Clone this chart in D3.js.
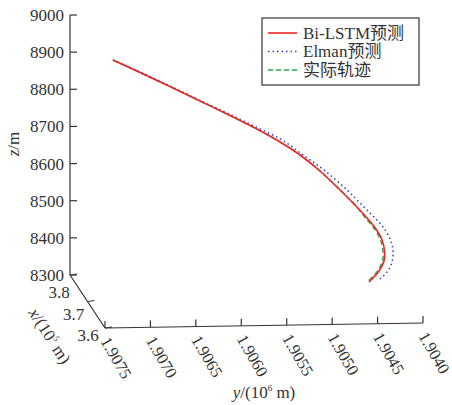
<!DOCTYPE html>
<html lang="zh">
<head>
<meta charset="UTF-8" />
<title>Trajectory 3D</title>
<script src="https://d3js.org/d3.v7.min.js"></script>
<style>
  body { margin: 0; background: #fff; }
  svg { display: block; }
  text { font-family: "Liberation Serif", "Times New Roman", "Noto Sans CJK SC", serif; fill: #333; }
</style>
</head>
<body>
<svg id="chart" width="452" height="405"></svg>
<script>
// axis ticks
const xTicks = [3.6, 3.7, 3.8];
const yTicks = [1.9075, 1.9070, 1.9065, 1.9060, 1.9055, 1.9050, 1.9045, 1.9040];
const zTicks = [8300, 8400, 8500, 8600, 8700, 8800, 8900, 9000];

const seriesNames = ["Bi-LSTM预测", "Elman预测", "实际轨迹"];

// trajectory points (x in 1e5 m, y in 1e6 m, z in m)
const trackX = [3.760, 3.754, 3.748, 3.742, 3.736, 3.730, 3.724, 3.718, 3.712,
                3.706, 3.700, 3.694, 3.688, 3.682, 3.676, 3.670, 3.664, 3.658];

const lstmY = [1.907104, 1.906818, 1.906500, 1.906181, 1.905862, 1.905599, 1.905335, 1.905127, 1.904918,
               1.904709, 1.904556, 1.904435, 1.904348, 1.904293, 1.904277, 1.904294, 1.904361, 1.904483];
const lstmZ = [8905.8, 8875.4, 8840.7, 8804.8, 8768.8, 8738.4, 8704.0, 8672.5, 8632.9,
               8585.2, 8548.5, 8517.3, 8491.6, 8466.1, 8440.7, 8418.1, 8395.7, 8370.9];

const elmanY = [1.907104, 1.906818, 1.906500, 1.906181, 1.905862, 1.905599, 1.905313, 1.905093, 1.904874,
                1.904632, 1.904479, 1.904369, 1.904271, 1.904205, 1.904184, 1.904206, 1.904273, 1.904362];
const elmanZ = [8905.8, 8876.7, 8842.0, 8806.1, 8771.5, 8742.4, 8709.3, 8672.3, 8635.4,
                8584.9, 8548.2, 8522.4, 8496.7, 8468.4, 8443.0, 8415.1, 8392.7, 8378.5];

const realY = [1.907104, 1.906818, 1.906500, 1.906181, 1.905862, 1.905599, 1.905335, 1.905127, 1.904918,
               1.904709, 1.904556, 1.904452, 1.904365, 1.904310, 1.904294, 1.904311, 1.904378, 1.904500];
const realZ = [8905.8, 8875.4, 8840.7, 8804.8, 8768.8, 8738.4, 8704.0, 8672.5, 8632.9,
               8585.2, 8548.5, 8517.3, 8491.6, 8466.1, 8440.7, 8418.1, 8395.7, 8370.9];

const svg = d3.select("#chart");

// 3D -> screen: each axis maps to a fraction, then onto its own screen vector
const xS = d3.scaleLinear().domain([3.6, 3.8]).range([0, 1]);
const yS = d3.scaleLinear().domain([1.9075, 1.9040]).range([0, 1]);
const zS = d3.scaleLinear().domain([8300, 9000]).range([0, 1]);
const origin = [105, 328];
const vx = [-35, -53], vy = [318, -5], vz = [0, -260];

function project(x, y, z) {
  const a = xS(x), b = yS(y), c = zS(z);
  return [origin[0] + a * vx[0] + b * vy[0] + c * vz[0],
          origin[1] + a * vx[1] + b * vy[1] + c * vz[1]];
}

const axisColor = "#333";
const tickLen = 7;
const fs = 17;

// z axis (at x=3.8, y=1.9075)
const z0 = project(3.8, 1.9075, 8300), z1 = project(3.8, 1.9075, 9000);
svg.append("line").attr("x1", z0[0]).attr("y1", z0[1]).attr("x2", z1[0]).attr("y2", z1[1])
  .attr("stroke", axisColor).attr("stroke-width", 1.2);
zTicks.forEach(t => {
  const p = project(3.8, 1.9075, t);
  svg.append("line").attr("x1", p[0]).attr("y1", p[1]).attr("x2", p[0] + tickLen).attr("y2", p[1])
    .attr("stroke", axisColor).attr("stroke-width", 1.2);
  svg.append("text").attr("x", p[0] - 6).attr("y", p[1]).attr("dy", "0.35em")
    .attr("text-anchor", "end").attr("font-size", fs).text(d3.format("d")(t));
});
svg.append("text").attr("transform", "translate(19,144) rotate(-90)")
  .attr("text-anchor", "middle").attr("font-size", fs)
  .html('<tspan font-style="italic">z</tspan>/m');

// x axis (at y=1.9075, z=8300)
const x0 = project(3.6, 1.9075, 8300), x1 = project(3.8, 1.9075, 8300);
svg.append("line").attr("x1", x0[0]).attr("y1", x0[1]).attr("x2", x1[0]).attr("y2", x1[1])
  .attr("stroke", axisColor).attr("stroke-width", 1.2);
const xLabelOffset = d3.scaleLinear().domain([3.6, 3.8]).range([[-17, 7], [-11, 17.5]]);
xTicks.forEach(t => {
  const p = project(t, 1.9075, 8300);
  const o = xLabelOffset(t);
  svg.append("line").attr("x1", p[0]).attr("y1", p[1]).attr("x2", p[0] + tickLen).attr("y2", p[1] - 1)
    .attr("stroke", axisColor).attr("stroke-width", 1.2);
  svg.append("text").attr("x", p[0] + o[0]).attr("y", p[1] + o[1]).attr("dy", "0.35em")
    .attr("text-anchor", "middle").attr("font-size", fs).text(d3.format(".1f")(t));
});
svg.append("text").attr("transform", "translate(45,339) rotate(57)")
  .attr("text-anchor", "middle").attr("font-size", fs)
  .html('<tspan font-style="italic">x</tspan>/(10<tspan font-size="9" dy="-7">5</tspan><tspan dy="7"> m)</tspan>');

// y axis (at x=3.6, z=8300)
const y0 = project(3.6, 1.9075, 8300), y1 = project(3.6, 1.9040, 8300);
svg.append("line").attr("x1", y0[0]).attr("y1", y0[1]).attr("x2", y1[0]).attr("y2", y1[1])
  .attr("stroke", axisColor).attr("stroke-width", 1.2);
yTicks.forEach(t => {
  const p = project(3.6, t, 8300);
  svg.append("line").attr("x1", p[0]).attr("y1", p[1]).attr("x2", p[0]).attr("y2", p[1] - tickLen)
    .attr("stroke", axisColor).attr("stroke-width", 1.2);
  svg.append("text").attr("transform", `translate(${p[0]},${p[1] + 10}) rotate(60)`)
    .attr("dy", "0.35em").attr("text-anchor", "start").attr("font-size", 16.5)
    .text(d3.format(".4f")(t));
});
svg.append("text").attr("x", 264).attr("y", 398)
  .attr("text-anchor", "middle").attr("font-size", fs)
  .html('<tspan font-style="italic">y</tspan>/(10<tspan font-size="9" dy="-7">6</tspan><tspan dy="7"> m)</tspan>');

// trajectories
const series = [
  { name: seriesNames[2], xs: trackX, ys: realY, zs: realZ, color: "#27a84c", dash: "5,3", w: 1.4 },
  { name: seriesNames[1], xs: trackX, ys: elmanY, zs: elmanZ, color: "#3346c8", dash: "1.5,3", w: 1.6 },
  { name: seriesNames[0], xs: trackX, ys: lstmY, zs: lstmZ, color: "#ee2525", dash: null, w: 1.6 }
];

const line = d3.line().curve(d3.curveCatmullRom.alpha(0.5))
  .x(d => project(d[0], d[1], d[2])[0])
  .y(d => project(d[0], d[1], d[2])[1]);

series.forEach(s => {
  const pts = s.xs.map((x, i) => [x, s.ys[i], s.zs[i]]);
  svg.append("path").datum(pts).attr("d", line)
    .attr("fill", "none").attr("stroke", s.color).attr("stroke-width", s.w)
    .attr("stroke-dasharray", s.dash);
});

// legend
const legend = svg.append("g");
legend.append("rect").attr("x", 262).attr("y", 18).attr("width", 157).attr("height", 67)
  .attr("fill", "#fff").attr("stroke", "#333").attr("stroke-width", 1.2);
const legendOrder = [series[2], series[1], series[0]];
legendOrder.forEach((s, i) => {
  const yy = 33 + i * 18.5;
  legend.append("line").attr("x1", 268).attr("x2", 297).attr("y1", yy).attr("y2", yy)
    .attr("stroke", s.color).attr("stroke-width", s.w).attr("stroke-dasharray", s.dash);
  legend.append("text").attr("x", 303).attr("y", yy).attr("dy", "0.35em")
    .attr("font-size", fs).text(s.name);
});
</script>
</body>
</html>
